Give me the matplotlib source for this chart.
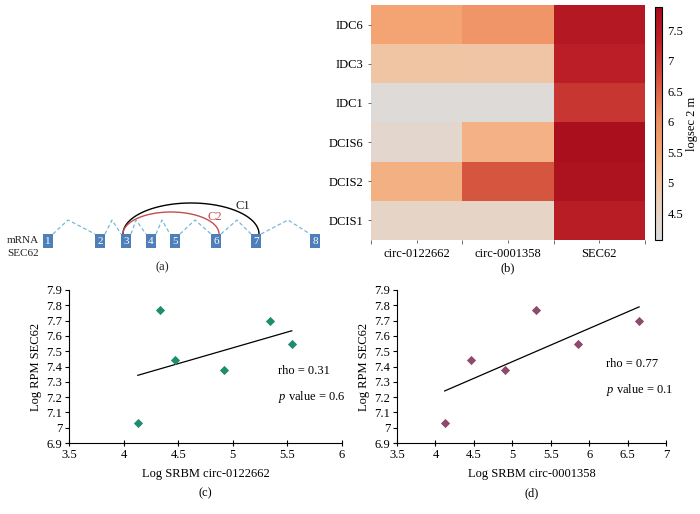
import numpy as np
import matplotlib
matplotlib.use("Agg")
import matplotlib.pyplot as plt
from matplotlib.colors import LinearSegmentedColormap
from matplotlib.patches import Rectangle

plt.rcParams['font.family'] = ['Liberation Serif', 'DejaVu Serif']
plt.rcParams['mathtext.fontset'] = 'custom'
plt.rcParams['mathtext.rm'] = 'Liberation Serif'
plt.rcParams['mathtext.it'] = 'Liberation Serif:italic'

# ---------------- data ----------------
samples = ["IDC6", "IDC3", "IDC1", "DCIS6", "DCIS2", "DCIS1"]
genes = ["circ-0122662", "circ-0001358", "SEC62"]
circ_0122662 = [5.54, 4.92, 4.13, 4.33, 5.34, 4.47]
circ_0001358 = [5.85, 4.91, 4.12, 5.31, 6.65, 4.46]
sec62 = [7.55, 7.38, 7.03, 7.77, 7.70, 7.44]
cbar_ticks = [4.5, 5, 5.5, 6, 6.5, 7, 7.5]
cbar_range = [4.06, 7.88]

# scatter panels
x_c = [4.13, 4.33, 4.47, 4.92, 5.34, 5.54]
y_c = [7.03, 7.77, 7.44, 7.38, 7.70, 7.55]
x_d = [4.12, 5.31, 4.46, 4.91, 6.65, 5.85]
y_d = [7.03, 7.77, 7.44, 7.38, 7.70, 7.55]
yticks = [6.9, 7, 7.1, 7.2, 7.3, 7.4, 7.5, 7.6, 7.7, 7.8, 7.9]
ytick_labels = ["6.9", "7", "7.1", "7.2", "7.3", "7.4", "7.5", "7.6", "7.7", "7.8", "7.9"]
xticks_c = [3.5, 4, 4.5, 5, 5.5, 6]
xticks_d = [3.5, 4, 4.5, 5, 5.5, 6, 6.5, 7]
stats_c = ("0.31", "0.6")
stats_d = ("0.77", "0.1")

# gene structure diagram (schematic units)
exon_labels = ["1", "2", "3", "4", "5", "6", "7", "8"]
exon_pos = [48, 100, 126, 151, 175, 216, 256, 315]
intron_peaks = [68, 112, 136, 162, 195, 237, 288]

# ---------------- figure ----------------
fig = plt.figure(figsize=(7.0, 5.14), dpi=100)
W, H = 700, 514

def ax_px(l, t, r, b):
    return fig.add_axes([l / W, 1 - b / H, (r - l) / W, (b - t) / H])

# ---- (a) diagram ----
axa = ax_px(0, 160, 350, 300)
axa.set_xlim(0, 350)
axa.set_ylim(300, 160)
axa.axis('off')
ex_w, ex_h, ex_y = 10, 14, 241
blue = '#4f7fb8'
for i, (p, lab) in enumerate(zip(exon_pos, exon_labels)):
    axa.add_patch(Rectangle((p - ex_w / 2, ex_y - ex_h / 2), ex_w, ex_h,
                            facecolor=blue, edgecolor='none', zorder=3))
    axa.text(p, ex_y + 0.5, lab, color='white', fontsize=8, ha='center',
             va='center', zorder=4)
top_y = ex_y - ex_h / 2
for i, pk in enumerate(intron_peaks):
    x0 = exon_pos[i] + ex_w / 2
    x1 = exon_pos[i + 1] - ex_w / 2
    axa.plot([x0, pk, x1], [top_y, 220, top_y], color='#7ab8d6',
             ls=(0, (3, 2)), lw=0.9, zorder=2)

def arc(xa, xb, ypk, color):
    t = np.linspace(0, np.pi, 100)
    cx, rx = (xa + xb) / 2, (xb - xa) / 2
    axa.plot(cx - rx * np.cos(t), top_y - (top_y - ypk) * np.sin(t),
             color=color, lw=1.0, zorder=2)

arc(exon_pos[2] - 3, exon_pos[6] + 3, 203, 'black')
arc(exon_pos[2] - 3, exon_pos[5] + 3, 212, '#c0504d')
axa.text(243, 206, "C1", fontsize=9, ha='center', va='center', color='#222222')
axa.text(215, 217, "C2", fontsize=9, ha='center', va='center', color='#c0504d')
axa.text(7, 240, "mRNA", fontsize=8, ha='left', va='center', color='#222222')
axa.text(7, 253, "SEC62", fontsize=8, ha='left', va='center', color='#222222')
axa.text(162, 267, "(a)", fontsize=9, ha='center', va='center', color='#222222')

# ---- (b) heatmap ----
axb = ax_px(371, 5, 645, 240)
mat = np.array([circ_0122662, circ_0001358, sec62]).T
cmap = LinearSegmentedColormap.from_list(
    'sec', [(0.0, '#dcdcdc'), (0.12, '#e8d3c4'), (0.25, '#f3c29d'),
            (0.38, '#f4a674'), (0.52, '#ec8b61'), (0.68, '#d6553f'),
            (0.85, '#bf2229'), (1.0, '#a50b1b')])
im = axb.imshow(mat, cmap=cmap, vmin=cbar_range[0], vmax=cbar_range[1],
                aspect='auto', interpolation='nearest')
axb.set_xticks(range(len(genes)))
axb.set_xticklabels(genes, fontsize=9)
axb.set_yticks(range(len(samples)))
axb.set_yticklabels(samples, fontsize=9)
for s in axb.spines.values():
    s.set_visible(False)
axb.tick_params(length=2, width=0.6, color='#555555')
axb.set_xticks([-0.5, 0.5, 1.5, 2.5], minor=True)
axb.tick_params(which='minor', length=3, width=0.6, color='#555555')
axb.text(0.5, -0.135, "(b)", transform=axb.transAxes, ha='center', fontsize=9)

cax = ax_px(655, 7, 662, 240)
cb = fig.colorbar(im, cax=cax)
cb.set_ticks(cbar_ticks)
cb.set_ticklabels([f"{t:g}" for t in cbar_ticks])
cb.ax.tick_params(labelsize=9, length=0, pad=4)
cb.outline.set_linewidth(0.8)
cb.set_label("logsec 2 m", fontsize=9, labelpad=2)

# ---- scatter panels ----
def scatter_panel(rect, xs, ys, xticks, color, xlabel, stats, txt_xy, tag):
    ax = ax_px(*rect)
    ax.scatter(xs, ys, marker='D', s=22, color=color, zorder=3, linewidths=0)
    k, b0 = np.polyfit(xs, ys, 1)
    xl = np.array([min(xs), max(xs)])
    ax.plot(xl, k * xl + b0, color='black', lw=0.9)
    ax.set_xlim(xticks[0], xticks[-1])
    ax.set_ylim(yticks[0], yticks[-1])
    ax.set_xticks(xticks)
    ax.set_xticklabels([f"{t:g}" for t in xticks], fontsize=9)
    ax.set_yticks(yticks)
    ax.set_yticklabels(ytick_labels, fontsize=9)
    ax.spines['top'].set_visible(False)
    ax.spines['right'].set_visible(False)
    ax.spines['left'].set_linewidth(0.8)
    ax.spines['bottom'].set_linewidth(0.8)
    ax.tick_params(axis='x', direction='inout', length=5, width=0.8, pad=2)
    ax.tick_params(axis='y', direction='out', length=3, width=0.8, pad=2)
    ax.set_xlabel(xlabel, fontsize=9, labelpad=5)
    ax.set_ylabel("Log RPM SEC62", fontsize=9, labelpad=3)
    tx, ty = txt_xy
    ax.text(tx, ty, f"rho = {stats[0]}", fontsize=9, ha='left', va='center')
    ax.text(tx, ty - 0.17, r"$\it{p}$" + f" value = {stats[1]}", fontsize=9,
            ha='left', va='center')
    ax.text(0.5, -0.35, tag, transform=ax.transAxes, ha='center', fontsize=9)
    return ax

scatter_panel((69, 290, 342, 443), x_c, y_c, xticks_c, '#1e8c6e',
              "Log SRBM circ-0122662", stats_c, (5.41, 7.37), "(c)")
scatter_panel((397, 290, 666, 443), x_d, y_d, xticks_d, '#8c4a6c',
              "Log SRBM circ-0001358", stats_d, (6.22, 7.415), "(d)")

fig.savefig("out.png", dpi=100)
